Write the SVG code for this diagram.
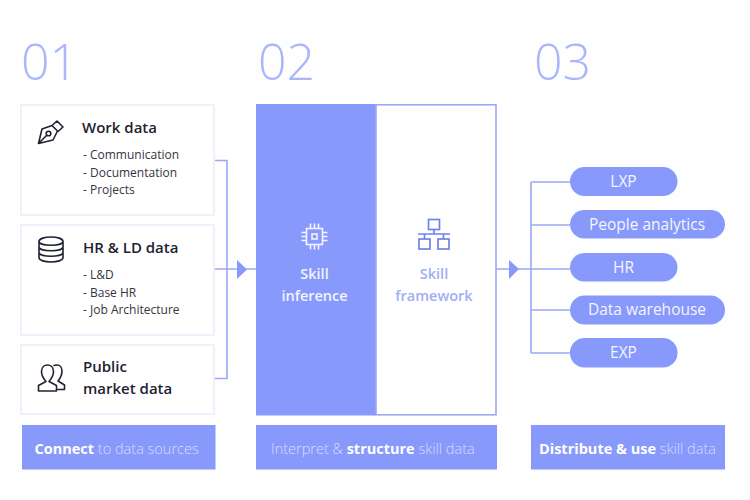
<svg xmlns="http://www.w3.org/2000/svg" width="750" height="500" viewBox="0 0 750 500">
<style>
text{font-family:"Open Sans","Liberation Sans",sans-serif}
.num{font-size:50px;fill:#a9b6fb;font-weight:300}
.card{fill:#fff;stroke:#eff0fb;stroke-width:2}
.title{font-size:15px;font-weight:600;fill:#1f2230}
.item{font-size:12px;fill:#33363f}
.band{fill:#8899fc}
.cap{font-size:14.5px;fill:#d6dcfe;font-weight:300}
.cap .b{font-weight:700;fill:#fff}
.pill{fill:#8899fc}
.pt{font-size:15.5px;font-weight:500;fill:#f4f5ff;text-anchor:middle}
.line{fill:none;stroke:#9aa8f5;stroke-width:1.6}
.head{fill:#8899fc}
.ic{fill:none;stroke:#1f2230;stroke-width:1.6;stroke-linejoin:round;stroke-linecap:round}
.icw{fill:none;stroke:#f2f4ff;stroke-width:1.6}
.icb{fill:none;stroke:#6f84e8;stroke-width:1.7}
.lab{font-size:14.5px;font-weight:600;text-anchor:middle}
</style>
<rect width="750" height="500" fill="#fefefe"/>
<text class="num" x="21" y="80">01</text>
<text class="num" x="258" y="80">02</text>
<text class="num" x="534" y="80">03</text>
<g id="connectors">
<path class="line" d="M214 160.500H227V378.500H214M214 269H256"/>
<path class="line" d="M496 269H531M531 182V353M531 182H570M531 225H570M531 269H570M531 310H570M531 353H570"/>
<path class="head" d="M237 260L247 269.500L237 279Z"/>
<path class="head" d="M509 260L519 269L509 279Z"/>
</g>
<g id="work-data">
<rect class="card" x="21" y="105" width="193" height="110"/>
<path class="ic" d="M57 121L63 127L58 131.500L52 125.500ZM52 125.500L42 129L38.500 143.500L53 140L57.500 131M38.500 143.500L46.500 135.500"/>
<circle class="ic" cx="48.500" cy="133.500" r="2.300"/>
<text class="title" x="82" y="133">Work data</text>
<text class="item" x="83" y="159">- Communication</text>
<text class="item" x="83" y="176.500">- Documentation</text>
<text class="item" x="83" y="194">- Projects</text>
</g>
<g id="hr-ld-data">
<rect class="card" x="21" y="225" width="193" height="110"/>
<path class="ic" d="M39 241.500C39 235.500 63 235.500 63 241.500V257.500C63 263.500 39 263.500 39 257.500ZM39 241.500C39 246.500 63 246.500 63 241.500M39 247C39 252 63 252 63 247M39 252.500C39 257.500 63 257.500 63 252.500"/>
<text class="title" x="83" y="253">HR &amp; LD data</text>
<text class="item" x="83" y="279">- L&amp;D</text>
<text class="item" x="83" y="296.500">- Base HR</text>
<text class="item" x="83" y="314">- Job Architecture</text>
</g>
<g id="public-market-data">
<rect class="card" x="21" y="345" width="193" height="69"/>
<path class="ic" d="M38.500 391V385.500L46 381.500C43 378 41.500 375 41.500 371.500C41.500 367 44.500 365 47.500 365C50.500 365 53.500 367 53.500 371.500C53.500 375 52 378 49 381.500L56.500 385.500V391ZM54 365.500C55 365 56 365 57 365C60 365 62 367.500 62 371C62 375 60.500 378 58 381L64.500 385V389.500H58"/>
<text class="title" x="83" y="372">Public</text>
<text class="title" x="83" y="394">market data</text>
</g>
<g id="connect">
<rect class="band" x="22" y="425" width="193.500" height="44.500"/>
<text class="cap" x="34.500" y="453.500"><tspan class="b">Connect</tspan> to data sources</text>
</g>
<g id="skill-inference">
<rect x="256" y="104" width="120" height="311.500" fill="#8899fc"/>
<rect class="icw" x="306.500" y="228.500" width="16" height="16"/>
<rect class="icw" x="312" y="234" width="5" height="5"/>
<path class="icw" d="M310.500 223.500V228.500M314.500 223.500V228.500M318.500 223.500V228.500M310.500 244.500V249.500M314.500 244.500V249.500M318.500 244.500V249.500M301.500 232.500H306.500M301.500 236.500H306.500M301.500 240.500H306.500M322.500 232.500H327.500M322.500 236.500H327.500M322.500 240.500H327.500"/>
<text class="lab" x="314.500" y="279" fill="#f2f4ff">Skill</text>
<text class="lab" x="314.500" y="301" fill="#f2f4ff">inference</text>
</g>
<g id="skill-framework">
<rect x="376" y="104.800" width="120" height="310" fill="#fff" stroke="#9aa8f5" stroke-width="1.600"/>
<rect class="icb" x="428.500" y="219.500" width="11" height="10"/>
<rect class="icb" x="419" y="239" width="11" height="10"/>
<rect class="icb" x="438" y="239" width="11" height="10"/>
<path class="icb" d="M434 229.500V234M418 234H450M424.500 234V239M443.500 234V239"/>
<text class="lab" x="434" y="279" fill="#a1aef5">Skill</text>
<text class="lab" x="434" y="301" fill="#a1aef5">framework</text>
</g>
<g id="interpret">
<rect class="band" x="256" y="425" width="241" height="44.500"/>
<text class="cap" x="271" y="453.500">Interpret &amp; <tspan class="b">structure</tspan> skill data</text>
</g>
<g id="lxp"><rect class="pill" x="570" y="167" width="107.500" height="29" rx="14.500"/><text class="pt" x="623.500" y="187">LXP</text></g>
<g id="people-analytics"><rect class="pill" x="570" y="210" width="155" height="28.500" rx="14.250"/><text class="pt" x="647" y="229.500">People analytics</text></g>
<g id="hr"><rect class="pill" x="570" y="253" width="107.500" height="28.500" rx="14.250"/><text class="pt" x="623.500" y="272.500">HR</text></g>
<g id="data-warehouse"><rect class="pill" x="570" y="295.500" width="155" height="29" rx="14.500"/><text class="pt" x="647" y="315">Data warehouse</text></g>
<g id="exp"><rect class="pill" x="570" y="338" width="107.500" height="29.500" rx="14.500"/><text class="pt" x="623.500" y="358">EXP</text></g>
<g id="distribute">
<rect class="band" x="531" y="425" width="194" height="44.500"/>
<text class="cap" x="539" y="453.500"><tspan class="b">Distribute &amp; use</tspan> skill data</text>
</g>
</svg>
